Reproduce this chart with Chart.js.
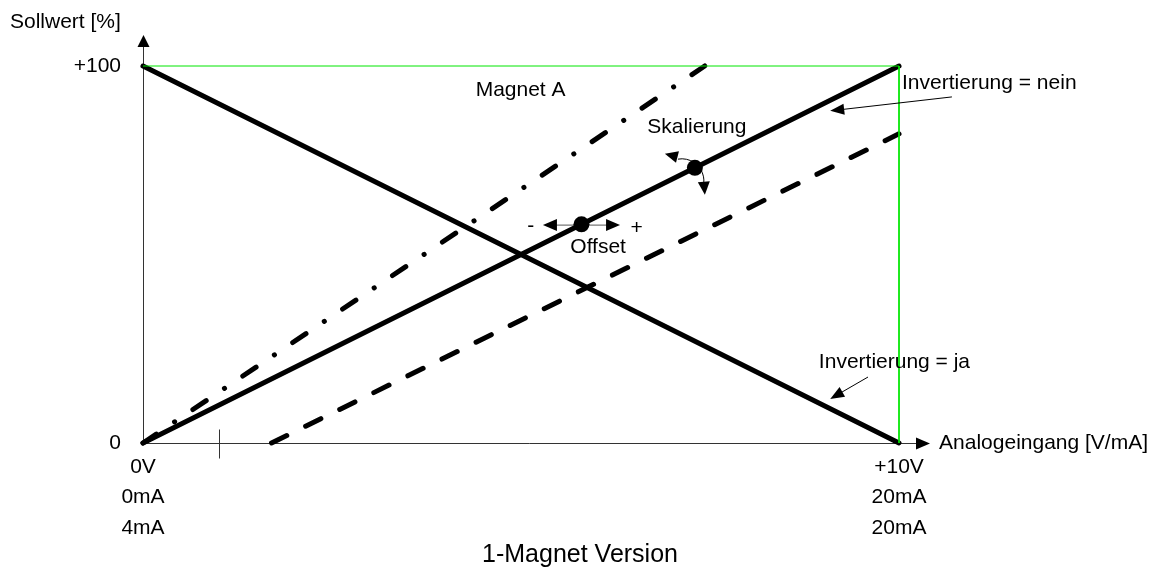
<!DOCTYPE html>
<html>
<head>
<meta charset="utf-8">
<script src="https://cdn.jsdelivr.net/npm/chart.js@4.4.1/dist/chart.umd.min.js"></script>
<style>
  html, body { margin: 0; padding: 0; background: #fff; }
  #chart { display: block; }
</style>
</head>
<body>
<canvas id="chart" width="1160" height="572"></canvas>
<script>
// ticks
const xTicks = [0, 10];
const xTickLabels = [['0V', '0mA', '4mA'], ['+10V', '20mA', '20mA']];
const yTicks = [0, 100];
const yTickLabels = ['0', '+100'];

// curves: Analogeingang (0..10) -> Sollwert (0..100)
const risingX  = [0, 10];
const risingY  = [0, 100];
const fallingX = [0, 10];
const fallingY = [100, 0];
const dashDotX = [0, 7.43];
const dashDotY = [0, 100];
const dashedX  = [1.7, 10];
const dashedY  = [0, 82];
const frameX   = [0, 10, 10];
const frameY   = [100, 100, 0];
const handleX  = [5.8, 7.3];   // Offset, Skalierung
const handleY  = [58, 73];
const markX    = [1];

const GREEN = '#00e600';
const INK   = '#000';
const FONT  = '"Liberation Sans", Arial, Helvetica, sans-serif';

const pts = (xs, ys) => xs.map((x, i) => ({ x, y: ys[i] }));

function seg(ctx, x1, y1, x2, y2) {
  ctx.beginPath(); ctx.moveTo(x1, y1); ctx.lineTo(x2, y2); ctx.stroke();
}
function head(ctx, tx, ty, ang, len, half) {
  ctx.save();
  ctx.translate(tx, ty); ctx.rotate(ang);
  ctx.beginPath(); ctx.moveTo(0, 0); ctx.lineTo(-len, -half); ctx.lineTo(-len, half); ctx.closePath();
  ctx.fill();
  ctx.restore();
}
function arrow(ctx, x1, y1, x2, y2, len, half) {
  const a = Math.atan2(y2 - y1, x2 - x1);
  seg(ctx, x1, y1, x2 - Math.cos(a) * len * 0.8, y2 - Math.sin(a) * len * 0.8);
  head(ctx, x2, y2, a, len, half);
}

const diagram = {
  id: 'diagram',
  beforeDatasetsDraw(chart) {
    const { ctx, scales: { x, y } } = chart;
    const px = v => x.getPixelForValue(v), py = v => y.getPixelForValue(v);
    const x0 = Math.round(px(0)) + 0.5, y0 = Math.round(py(0)) + 0.5;
    ctx.save();
    ctx.strokeStyle = '#333'; ctx.fillStyle = INK; ctx.lineWidth = 1;
    // axes with arrow heads
    seg(ctx, x0, y0, x0, y.top - 19);
    head(ctx, x0, y.top - 31, -Math.PI / 2, 12, 6);
    seg(ctx, x0, y0, x.right + 17, y0);
    head(ctx, x.right + 31, y0, 0, 14, 6);
    markX.forEach(v => {
      const m = Math.round(px(v)) + 0.5;
      seg(ctx, m, y0 - 14, m, y0 + 15);
    });
    // offset double arrow
    ctx.strokeStyle = '#555';
    const oy = py(57.8);
    seg(ctx, px(5.29) + 10, oy, px(6.31) - 10, oy);
    head(ctx, px(5.29), oy, Math.PI, 14, 6);
    head(ctx, px(6.31), oy, 0, 14, 6);
    // skalierung curved arrow around the handle
    const hx = px(handleX[1]), hy = py(handleY[1]);
    ctx.strokeStyle = INK;
    ctx.beginPath();
    ctx.arc(hx - 13, hy + 13, 22, -1.75, 0.1);
    ctx.stroke();
    head(ctx, hx - 30, hy - 14, Math.PI + 0.25, 13, 6);
    head(ctx, hx + 10, hy + 27, Math.PI / 2 - 0.08, 13, 6);
    ctx.restore();
  },
  afterDatasetsDraw(chart) {
    const { ctx, scales: { x, y } } = chart;
    const px = v => x.getPixelForValue(v), py = v => y.getPixelForValue(v);
    ctx.save();
    ctx.fillStyle = INK; ctx.strokeStyle = INK; ctx.lineWidth = 1;
    ctx.font = '21px ' + FONT;
    ctx.textBaseline = 'middle';
    const txt = (s, tx, ty, align) => { ctx.textAlign = align || 'left'; ctx.fillText(s, tx, ty); };
    txt('Sollwert [%]', 10, y.top - 44);
    txt('Magnet A', px(4.40), py(93.6));
    txt('Invertierung = nein', px(10.04), py(95.5));
    txt('Invertierung = ja', px(8.94), py(21.5));
    txt('Skalierung', px(6.67), py(83.8));
    txt('Offset', px(6.02), py(52), 'center');
    txt('-', px(5.13), py(57.6), 'center');
    txt('+', px(6.53), py(57), 'center');
    txt('Analogeingang [V/mA]', px(10.53), py(0));
    arrow(ctx, px(10.70), py(91.8), px(9.09), py(88.1), 14, 5.5);
    arrow(ctx, px(9.59), py(17.5), px(9.09), py(11.7), 14, 5.5);
    ctx.font = '25px ' + FONT;
    txt('1-Magnet Version', chart.width / 2, 555, 'center');
    ctx.restore();
  }
};

const thick = { showLine: true, borderColor: INK, borderWidth: 5, borderCapStyle: 'round', pointRadius: 0, clip: false };

new Chart(document.getElementById('chart'), {
  type: 'scatter',
  data: {
    datasets: [
      { data: pts(frameX, frameY), showLine: true, borderColor: GREEN, borderWidth: 1, pointRadius: 0, clip: false },
      { ...thick, data: pts(dashDotX, dashDotY), borderDash: [16, 22, 0.1, 22] },
      { ...thick, data: pts(dashedX, dashedY), borderDash: [17, 21] },
      { ...thick, data: pts(fallingX, fallingY) },
      { ...thick, data: pts(risingX, risingY) },
      { data: pts(handleX, handleY), showLine: false, pointRadius: 8, pointBackgroundColor: INK, pointBorderWidth: 0, clip: false }
    ]
  },
  options: {
    responsive: false,
    animation: false,
    layout: { padding: { top: 66, right: 261, bottom: 0, left: 0 } },
    plugins: { legend: { display: false }, tooltip: { enabled: false } },
    scales: {
      x: {
        type: 'linear', min: 0, max: 10,
        grid: { display: false, drawTicks: false }, border: { display: false },
        afterBuildTicks: s => { s.ticks = xTicks.map(v => ({ value: v })); },
        afterFit: s => { s.height = 129; },
        ticks: {
          autoSkip: false, maxRotation: 0, padding: 9, color: INK,
          font: { family: FONT, size: 21, lineHeight: 1.45 },
          callback: (v, i) => xTickLabels[i]
        }
      },
      y: {
        type: 'linear', min: 0, max: 100,
        grid: { display: false, drawTicks: false }, border: { display: false },
        afterBuildTicks: s => { s.ticks = yTicks.map(v => ({ value: v })); },
        afterFit: s => { s.width = 143; },
        ticks: {
          autoSkip: false, padding: 22, color: INK,
          font: { family: FONT, size: 21 },
          callback: (v, i) => yTickLabels[i]
        }
      }
    }
  },
  plugins: [diagram]
});
</script>
</body>
</html>
